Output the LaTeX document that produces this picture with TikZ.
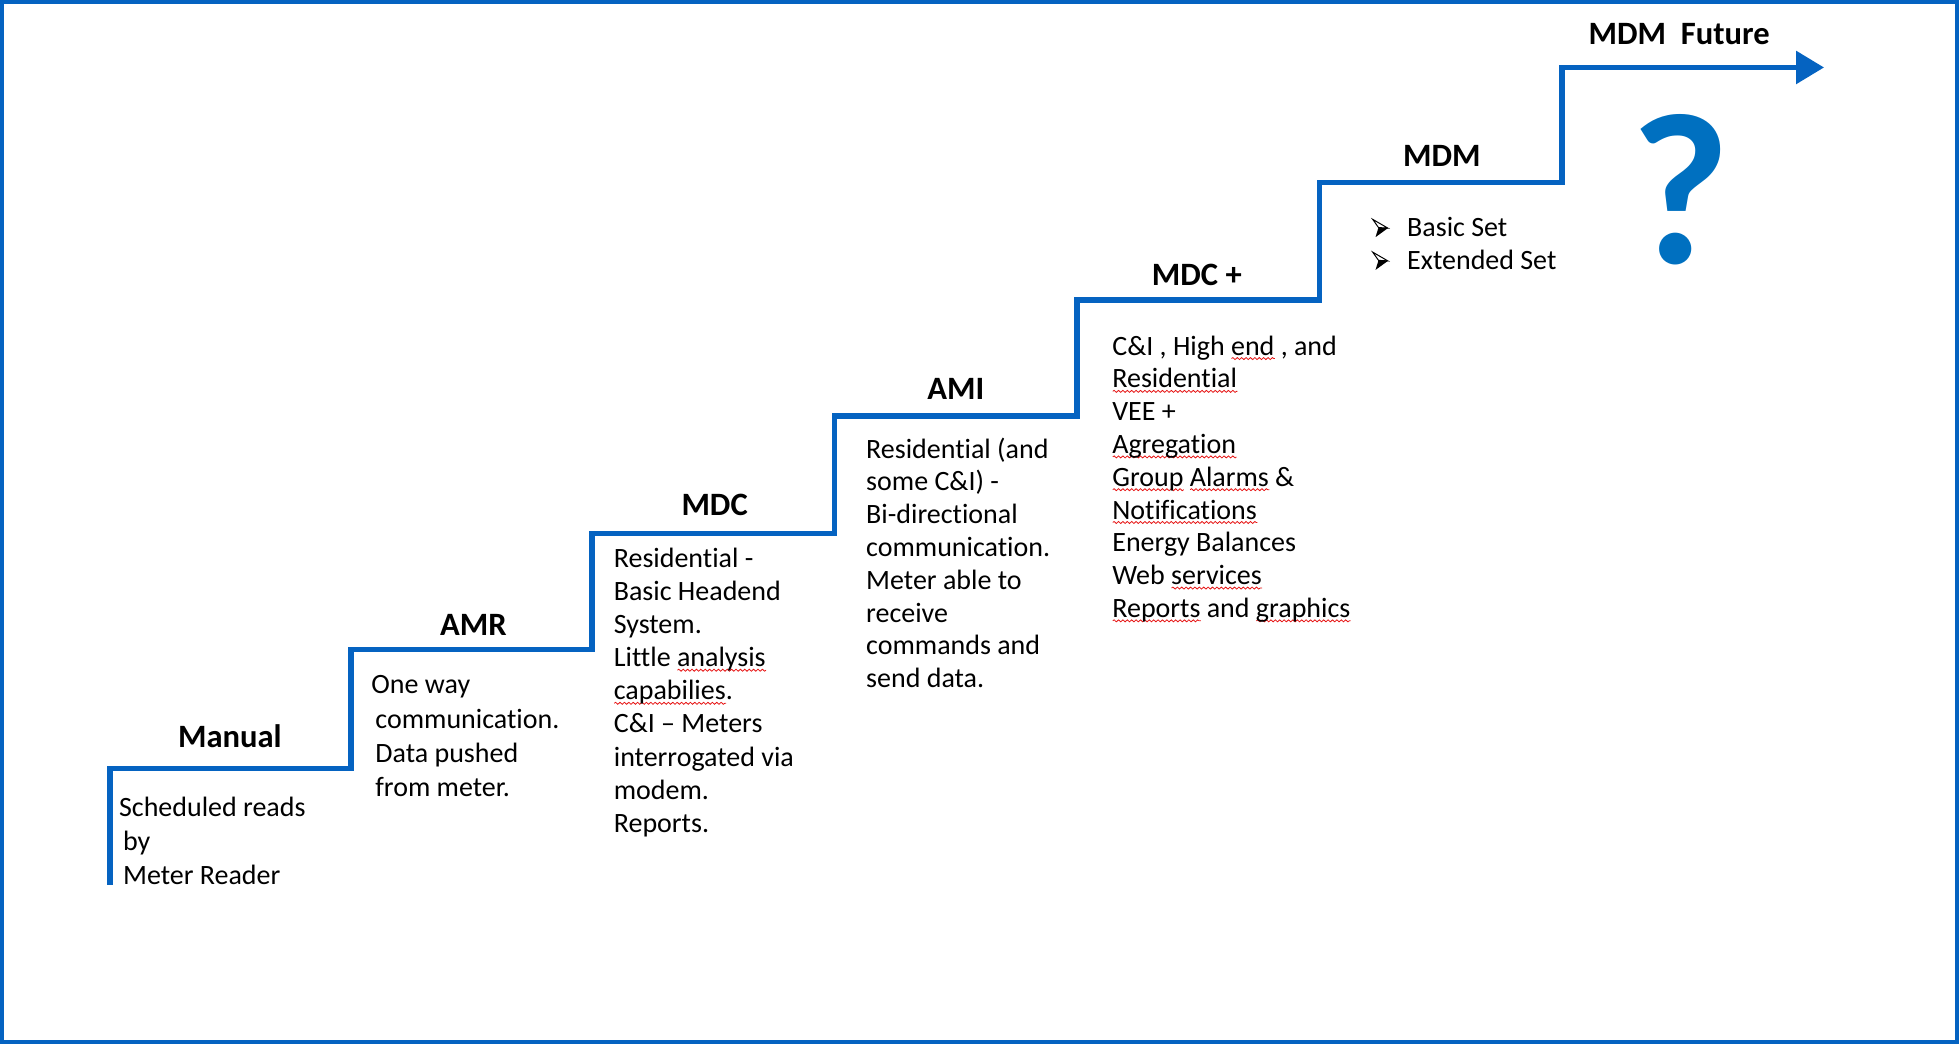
\documentclass[tikz,border=0pt]{standalone}
\usepackage{fontspec}
\setmainfont{Carlito}[Ligatures=NoCommon]
\usetikzlibrary{arrows.meta,decorations.pathmorphing}

\definecolor{stairblue}{RGB}{5,99,193}
\definecolor{qblue}{RGB}{0,112,192}
\definecolor{spellred}{RGB}{230,20,20}

\tikzset{
  stair/.style={draw=stairblue, line width=2.8pt, line join=miter},
  frame/.style={draw=stairblue, line width=2pt},
  title/.style={font=\fontsize{16.3}{19}\selectfont\bfseries, inner sep=0pt},
  body/.style={font=\fontsize{14}{16.4}\selectfont, align=left, anchor=north west, inner sep=0pt},
  bodywide/.style={body, font=\fontsize{14}{17.1}\selectfont},
  bodymid/.style={body, font=\fontsize{14}{16.55}\selectfont},
  spell/.style={draw=spellred, line width=0.4pt, decorate,
    decoration={snake, amplitude=0.5pt, segment length=2.2pt}},
}

% wavy red underline under a word
\newsavebox\sqbox
\newlength\sqlen
\newcommand\sq[1]{\sbox\sqbox{#1}\setlength\sqlen{\wd\sqbox}%
  \rlap{\tikz[baseline=0pt]\path[spell](0pt,-1.7pt)--(\sqlen,-1.7pt);}\usebox\sqbox}

% arrowhead bullet: outlined upper half, solid lower half
\newcommand\bul{\makebox[17.5pt][l]{\tikz[baseline=0pt, x=1pt, y=1pt]{%
  \filldraw[fill=white, draw=black, line width=0.5pt, line join=miter]
    (0,8.6) -- (7.6,4.2) -- (2.9,4.5) -- cycle;
  \fill[black] (2.9,4.5) -- (7.6,4.2) -- (1.4,-0.3) -- cycle;}}}

\begin{document}
\begin{tikzpicture}[x=0.625pt, y=-0.625pt]
  \useasboundingbox (0,0) rectangle (1568,836);
  \draw[frame] (1.6,1.6) rectangle (1566.4,834.4);

  % corners of the staircase
  \coordinate (p0) at (88,708);
  \coordinate (p1) at (281,615);
  \coordinate (p2) at (474,520);
  \coordinate (p3) at (668,427);
  \coordinate (p4) at (862,333);
  \coordinate (p5) at (1056,240);
  \coordinate (p6) at (1250,146);
  \coordinate (tip) at (1460,54);

  \draw[stair, -{Triangle[length=14pt,width=16pt]}]
    (p0) |- (p1) |- (p2) |- (p3) |- (p4) |- (p5) |- (p6) |- (tip);

  % step titles
  \node[title] (tManual) at (184,589) {Manual};
  \node[title] (tAMR)    at (379,500) {AMR};
  \node[title] (tMDC)    at (572,404) {MDC};
  \node[title] (tAMI)    at (765,311) {AMI};
  \node[title] (tMDCp)   at (958,220) {MDC +};
  \node[title] (tMDM)    at (1154,125) {MDM};
  \node[title] (tFuture) at (1344,27) {MDM~ Future};

  % step descriptions
  \node[bodywide] (bManual) at (95,637.6)
    {Scheduled reads\\\hspace*{2pt}by\\\hspace*{2pt}Meter Reader};
  \node[bodywide] (bAMR) at (297,540.6)
    {One way\\\hspace*{2pt}communication.\\\hspace*{2pt}Data pushed\\\hspace*{2pt}from meter.};
  \node[bodymid] (bMDC) at (491,438.4)
    {Residential -\\Basic Headend\\System.\\Little \sq{analysis}\\\sq{capabilies}.\\C\&I – Meters\\interrogated via\\modem.\\Reports.};
  \node[body] (bAMI) at (693,350)
    {Residential (and\\some C\&I) -\\Bi-directional\\communication.\\Meter able to\\receive\\commands and\\send data.};
  \node[body] (bMDCp) at (890,268.4)
    {C\&I , High \sq{end} , and\\\sq{Residential}\\VEE +\\\sq{Agregation}\\\sq{Group} \sq{Alarms} \&\\\sq{Notifications}\\Energy Balances\\Web \sq{services}\\\sq{Reports} and \sq{graphics}};
  \node[body] (bMDM) at (1098,173.6)
    {\bul Basic Set\\\bul Extended Set};

  % open future
  \node[font=\fontsize{108}{108}\selectfont\bfseries, text=qblue, anchor=base, inner sep=0pt]
    (qmark) at (1345,211) {?};
\end{tikzpicture}
\end{document}
